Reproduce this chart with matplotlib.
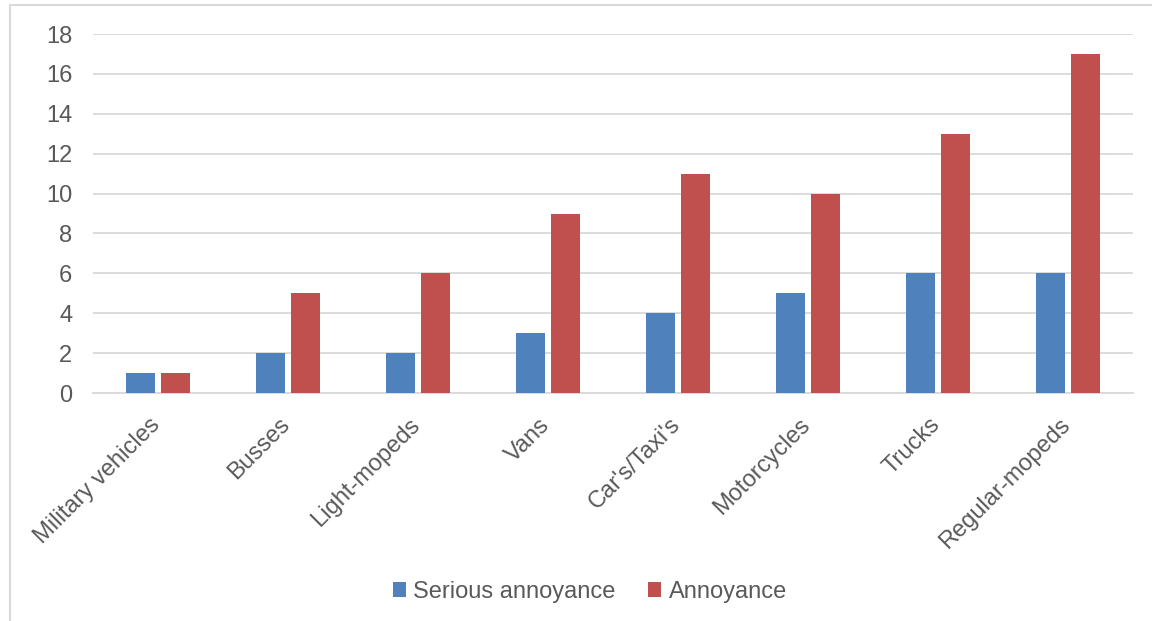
import matplotlib
matplotlib.use("Agg")
import matplotlib.pyplot as plt
from matplotlib.patches import Rectangle
from matplotlib.transforms import ScaledTranslation
import numpy as np

categories = ["Military vehicles", "Busses", "Light-mopeds", "Vans", "Car's/Taxi's",
              "Motorcycles", "Trucks", "Regular-mopeds"]
serious = [1, 2, 2, 3, 4, 5, 6, 6]
annoyance = [1, 5, 6, 9, 11, 10, 13, 17]
y_ticks = [0, 2, 4, 6, 8, 10, 12, 14, 16, 18]

plt.rcParams["font.family"] = ["Liberation Sans", "DejaVu Sans"]
text_color = "#595959"
blue = "#4F81BD"
red = "#C0504D"
fs = 17

fig = plt.figure(figsize=(11.52, 6.21), dpi=100)
ax = fig.add_axes([0.0807, 0.3671, 0.9028, 0.5781])

# outer chart frame
fig.patches.append(Rectangle((10 / 1152, -0.05), 1.1, 1 - 5 / 621 + 0.05,
                             transform=fig.transFigure, fill=False,
                             edgecolor="#D9D9D9", linewidth=1.5))

x = np.arange(len(categories))
w = 0.223
off = 0.138
ax.bar(x - off, serious, width=w, color=blue, label="Serious annoyance", zorder=3)
ax.bar(x + off, annoyance, width=w, color=red, label="Annoyance", zorder=3)

ax.set_xlim(-0.5, len(categories) - 0.5)
ax.set_ylim(0, 18)
ax.set_yticks(y_ticks)
ax.yaxis.grid(True, color="#D9D9D9", linewidth=1.3, zorder=0)
ax.set_axisbelow(True)
for s in ["top", "right", "left"]:
    ax.spines[s].set_visible(False)
ax.spines["bottom"].set_color("#D9D9D9")
ax.spines["bottom"].set_linewidth(1.3)

ax.tick_params(axis="both", length=0, labelsize=fs, labelcolor=text_color)
ax.tick_params(axis="y", pad=15)
ax.set_xticks(x)
ax.set_xticklabels(categories, rotation=45, ha="right", va="top",
                   rotation_mode="anchor")
ax.tick_params(axis="x", pad=15)
shift = ScaledTranslation(-9 / 100, 0, fig.dpi_scale_trans)
for lbl in ax.get_xticklabels():
    lbl.set_transform(lbl.get_transform() + shift)

fig.legend(loc="center", bbox_to_anchor=(0.512, 0.047), ncol=2, frameon=False,
           fontsize=fs, labelcolor=text_color, handlelength=0.55,
           handleheight=0.55, handletextpad=0.3, columnspacing=1.4)

fig.savefig("out.png", dpi=100)
